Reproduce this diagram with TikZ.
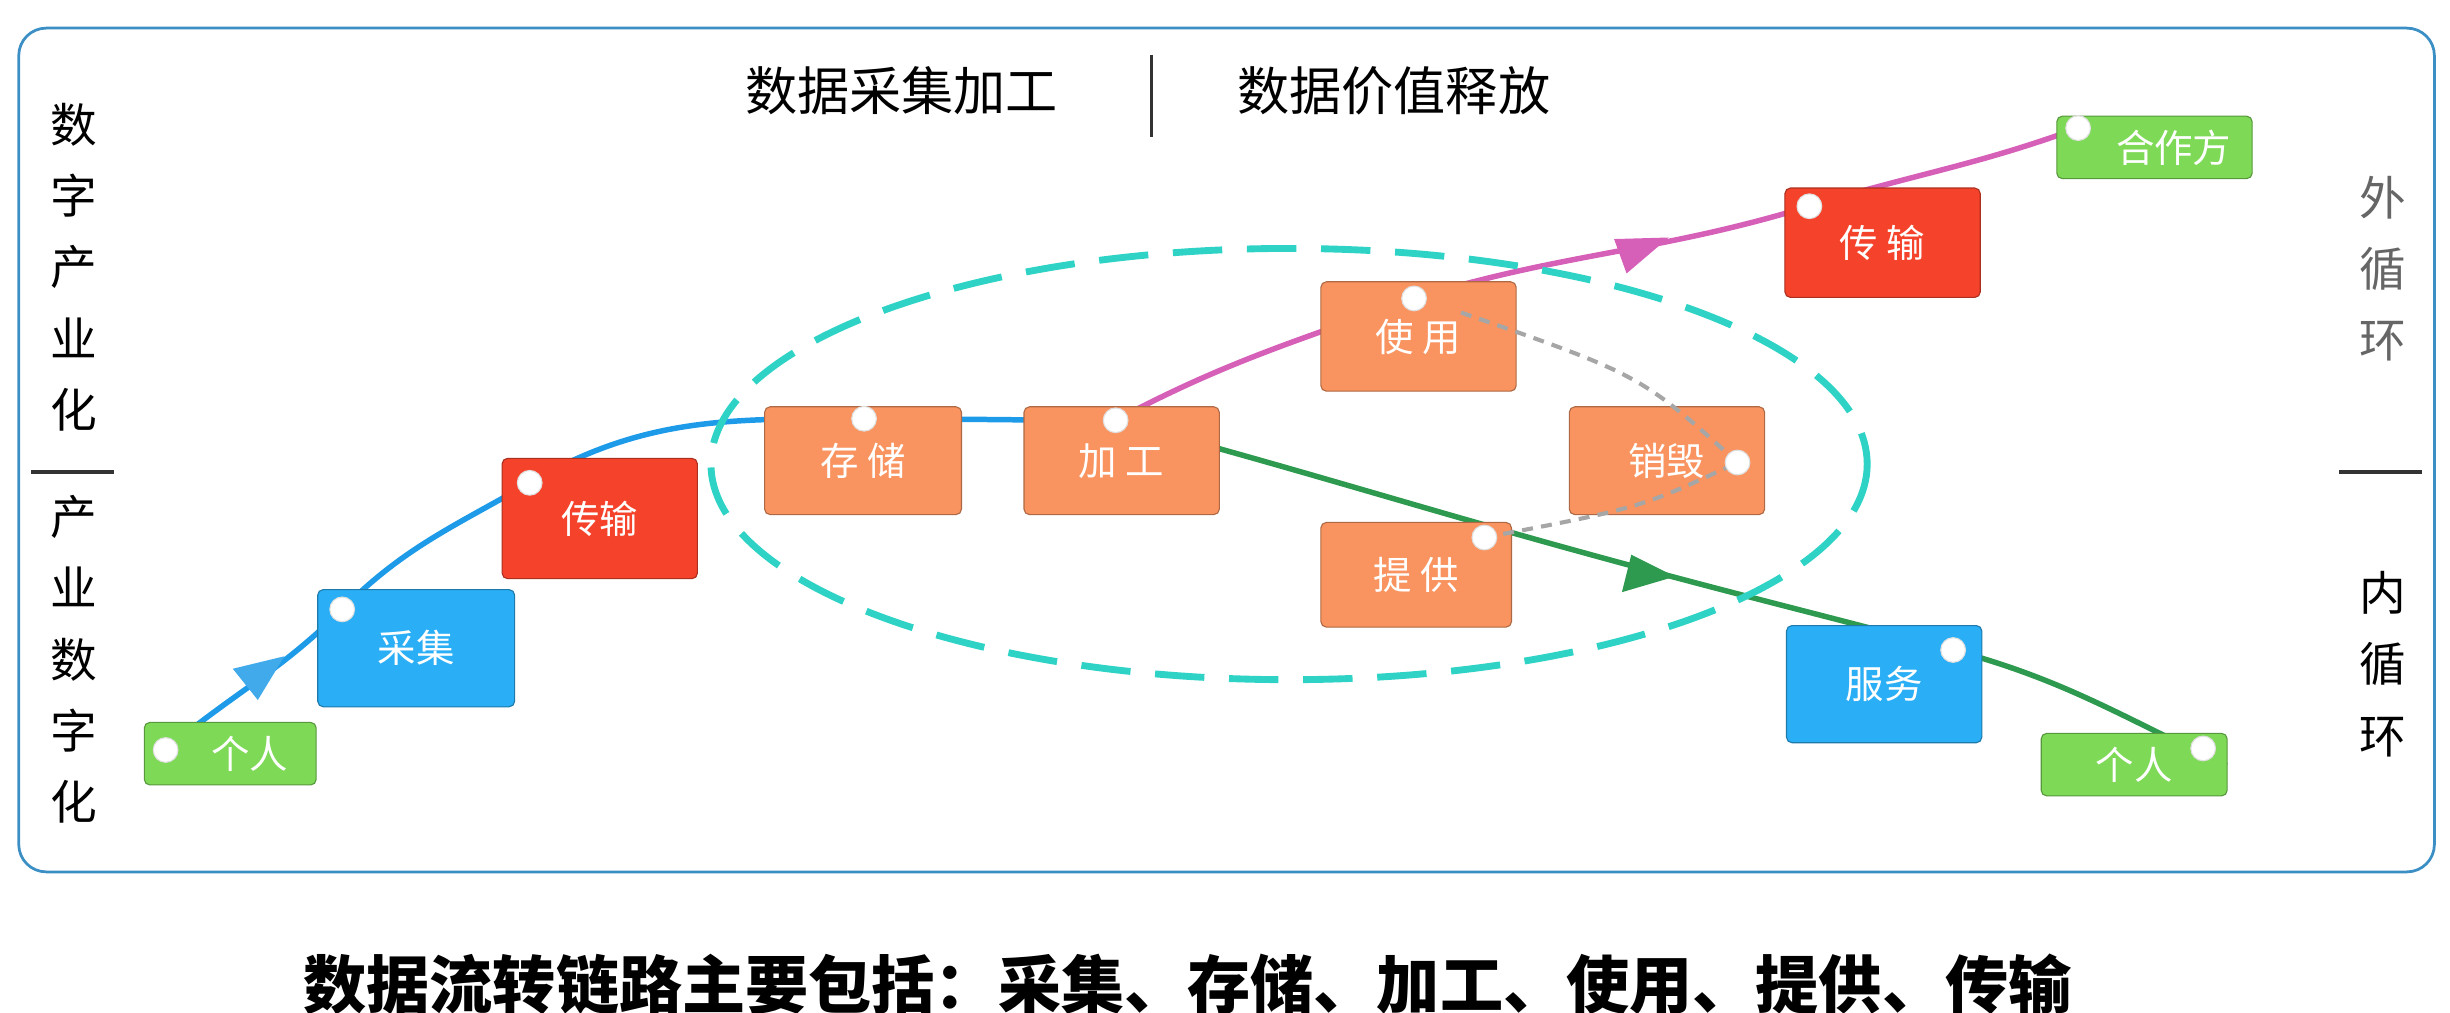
\documentclass[tikz,border=0pt]{standalone}
\usepackage{fontspec}
\setmainfont{Noto Sans CJK SC}

\definecolor{cgreen}{HTML}{7ED957}
\definecolor{cblue}{HTML}{2AAEF5}
\definecolor{cred}{HTML}{F5432B}
\definecolor{corange}{HTML}{F99460}
\definecolor{cteal}{HTML}{2ED3C6}
\definecolor{cframe}{HTML}{3B8FC4}
\definecolor{lblue}{HTML}{1E9BE8}
\definecolor{lpink}{HTML}{D660B8}
\definecolor{lgreen}{HTML}{2E9A50}

\tikzset{
  stage/.style={draw=#1!70!black, fill=#1, rounded corners=2pt, text=white,
    font=\fontsize{14}{14}\selectfont, inner sep=0pt, anchor=north west},
  dot/.style={circle, fill=white, draw=gray!25, inner sep=0pt, minimum size=9pt},
  flow/.style={line width=2pt, draw=#1},
  vtext/.style={font=\fontsize{17}{26}\selectfont, align=center},
  sep/.style={line width=1.2pt, draw=black!80}
}

\begin{document}
\begin{tikzpicture}[x=0.02cm, y=-0.02cm]
\useasboundingbox (0,0) rectangle (1568,648);

\draw[cframe, line width=1pt, rounded corners=10pt] (12,18) rectangle (1558,558);

% headings
\node[font=\fontsize{19}{19}\selectfont] (hleft) at (577,58) {数据采集加工};
\node[font=\fontsize{19}{19}\selectfont] (hright) at (892,58) {数据价值释放};
\draw[sep] (737,35) -- (737,88);

% side labels
\node[vtext] (lup) at (47,171) {数\\字\\产\\业\\化};
\draw[sep] (20,302) -- (73,302);
\node[vtext] (ldown) at (47,422) {产\\业\\数\\字\\化};
\node[vtext, text=black!60] (rup) at (1525,172) {外\\循\\环};
\draw[sep] (1497,302) -- (1550,302);
\node[vtext] (rdown) at (1525,425) {内\\循\\环};

% dots
\coordinate (d1) at (106,480);
\coordinate (d2) at (219,390);
\coordinate (d3) at (339,309);
\coordinate (d4) at (553,268);
\coordinate (d5) at (714,269);
\coordinate (d6) at (905,191);
\coordinate (d7) at (950,344);
\coordinate (d8) at (1112,296);
\coordinate (d9) at (1158,132);
\coordinate (d10) at (1330,82);
\coordinate (d11) at (1250,416);
\coordinate (d12) at (1425,490);

% flows
\draw[flow=lblue] (d1) to[out=40,in=225] (d2) to[out=45,in=210] (d3)
  to[out=30,in=180] (d4) to[out=0,in=180] (d5);
\draw[flow=lpink] (d5) to[out=28,in=200] (d6) to[out=17,in=197] (d9)
  to[out=17,in=200] (d10);
\draw[flow=lgreen] (d5) to[out=-15,in=165] (1055,365) to[out=-15,in=165] (d11)
  to[out=-15,in=155] (d12);
\fill[lblue!85] (182,420) -- (165,448) -- (149,428) -- cycle;
\fill[lpink] (1068,152) -- (1041,175) -- (1033,153) -- cycle;
\fill[lgreen] (1072,369) -- (1038,379) -- (1044,355) -- cycle;

% stages
\node[stage=cgreen, minimum width=110*0.02cm, minimum height=40*0.02cm] (p1) at (92,462) {\quad 个人};
\node[stage=cblue, minimum width=126*0.02cm, minimum height=75*0.02cm] (cj) at (203,377) {采集};
\node[stage=cred, minimum width=125*0.02cm, minimum height=77*0.02cm] (cs1) at (321,293) {传输};
\node[stage=corange, minimum width=126*0.02cm, minimum height=69*0.02cm] (cc) at (489,260) {存 储};
\node[stage=corange, minimum width=125*0.02cm, minimum height=69*0.02cm] (jg) at (655,260) {加 工};
\node[stage=corange, minimum width=125*0.02cm, minimum height=70*0.02cm] (sy) at (845,180) {使 用};
\node[stage=corange, minimum width=122*0.02cm, minimum height=67*0.02cm] (tg) at (845,334) {提 供};
\node[stage=corange, minimum width=125*0.02cm, minimum height=69*0.02cm] (xh) at (1004,260) {销毁};
\node[stage=cred, minimum width=125*0.02cm, minimum height=70*0.02cm] (cs2) at (1142,120) {传 输};
\node[stage=cgreen, minimum width=125*0.02cm, minimum height=40*0.02cm] (hz) at (1316,74) {\quad 合作方};
\node[stage=cblue, minimum width=125*0.02cm, minimum height=75*0.02cm] (fw) at (1143,400) {服务};
\node[stage=cgreen, minimum width=119*0.02cm, minimum height=40*0.02cm] (p2) at (1306,469) {个人\quad};

% destroy links
\draw[gray!70, line width=1.5pt, dash pattern=on 4pt off 3pt] (935,200) .. controls (1050,240) .. (d8);
\draw[gray!70, line width=1.5pt, dash pattern=on 4pt off 3pt] (d7) .. controls (1050,325) .. (d8);

% value cycle
\draw[cteal, line width=2.5pt, dash pattern=on 18pt off 9pt] (825,297) ellipse [x radius=370, y radius=138];

\foreach \d in {d1,d2,d3,d4,d5,d6,d7,d8,d9,d10,d11}
  \node[dot] at (\d) {};
\node[dot] at (1410,479) {};

\node[font=\bfseries\fontsize{23}{23}\selectfont] (summary) at (760,630)
  {数据流转链路主要包括：采集、存储、加工、使用、提供、传输};
\end{tikzpicture}
\end{document}
